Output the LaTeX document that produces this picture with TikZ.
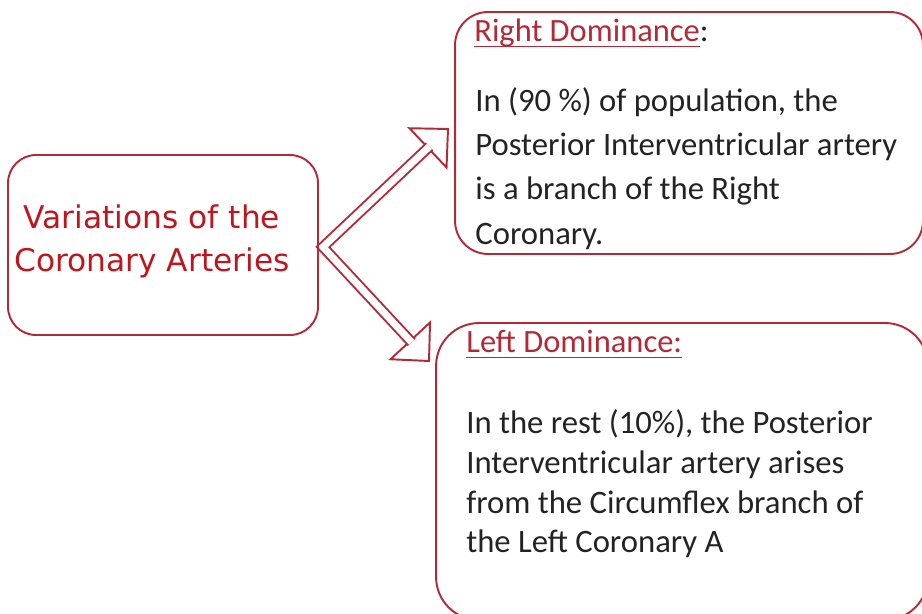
\documentclass[tikz,border=0pt]{standalone}
\usepackage{fontspec}
\setmainfont{Carlito}
\newfontfamily\titlefont{DejaVu Sans}
\usepackage{tikz}
\usetikzlibrary{calc}
\usepackage{xcolor}
\definecolor{boxred}{RGB}{178,42,55}
\definecolor{titlered}{RGB}{190,22,30}
\definecolor{bodygray}{RGB}{35,35,35}
\pgfdeclarelayer{background}
\pgfsetlayers{background,main}
\def\thickness{1.1pt}
\newcommand{\ulheading}[1]{{\setbox0\hbox{#1}\rlap{\rule[-2.8pt]{\wd0}{0.8pt}}\box0}}
\tikzset{panel/.style={draw=boxred, line width=\thickness, inner sep=0pt}}
\tikzset{headtext/.style={anchor=base west, inner sep=0pt, text=boxred, font=\fontsize{18.5}{22}\selectfont}}
\tikzset{bodytext/.style={anchor=north west, align=left, inner sep=0pt, text=bodygray}}
\tikzset{arrow head/.style={draw=boxred, fill=white, line width=\thickness, line join=miter}}
\tikzset{arrow shaft/.style={draw=boxred, double=white, double distance=4pt, line width=\thickness, line join=miter}}

\begin{document}
\begin{tikzpicture}[x=0.02cm, y=-0.02cm] %% one unit = one pixel

\useasboundingbox (0,0) rectangle (922,614);

%% boxes
\node [panel, rounded corners=0.56cm, minimum width=6.2cm, minimum height=3.6cm] (lbox) at (163,245) {};
\node [panel, rounded corners=0.66cm, minimum width=9.36cm, minimum height=4.84cm] (rbox) at (689,133) {};
\node [panel, rounded corners=0.86cm, minimum width=9.84cm, minimum height=5.94cm] (lfbox) at (682,471.5) {};

%% texts
\node [align=center, inner sep=0pt, text=titlered, font=\titlefont\fontsize{17.8}{24.4}\selectfont] (title) at (152,241.5) {Variations of the\\Coronary Arteries};
\node [headtext] (rhead) at (474,42) {\ulheading{Right Dominance}\textcolor{bodygray}{:}};
\node [bodytext, font=\fontsize{18.6}{25.2}\selectfont] (rbody) at (475,87) {In (90 \%) of population, the\\Posterior Interventricular artery\\is a branch of the Right\\Coronary.};
\node [headtext] (lhead) at (466,353) {\ulheading{Left Dominance:}};
\node [bodytext, font=\fontsize{18.6}{22.7}\selectfont] (lbody) at (466,409) {In the rest (10\%), the Posterior\\Interventricular artery arises\\from the Circumflex branch of\\the Left Coronary A};

%% arrows
\coordinate (fork) at ($(lbox.east)+(4,2)$);
\coordinate (tipup) at (448,129);
\coordinate (tipdown) at (429,361);
\coordinate (baseup) at ($(tipup)!0.55cm!(fork)$);
\coordinate (basedown) at ($(tipdown)!0.55cm!(fork)$);

\begin{pgfonlayer}{background}
\draw [arrow head] (tipup) -- ($(baseup)!0.54cm!90:(tipup)$) -- ($(baseup)!0.54cm!-90:(tipup)$) -- cycle;
\draw [arrow head] (tipdown) -- ($(basedown)!0.54cm!90:(tipdown)$) -- ($(basedown)!0.54cm!-90:(tipdown)$) -- cycle;
\draw [arrow shaft] ($(baseup)!-0.04cm!(fork)$) -- (fork) -- ($(basedown)!-0.04cm!(fork)$);
\end{pgfonlayer}

\end{tikzpicture}
\end{document}
